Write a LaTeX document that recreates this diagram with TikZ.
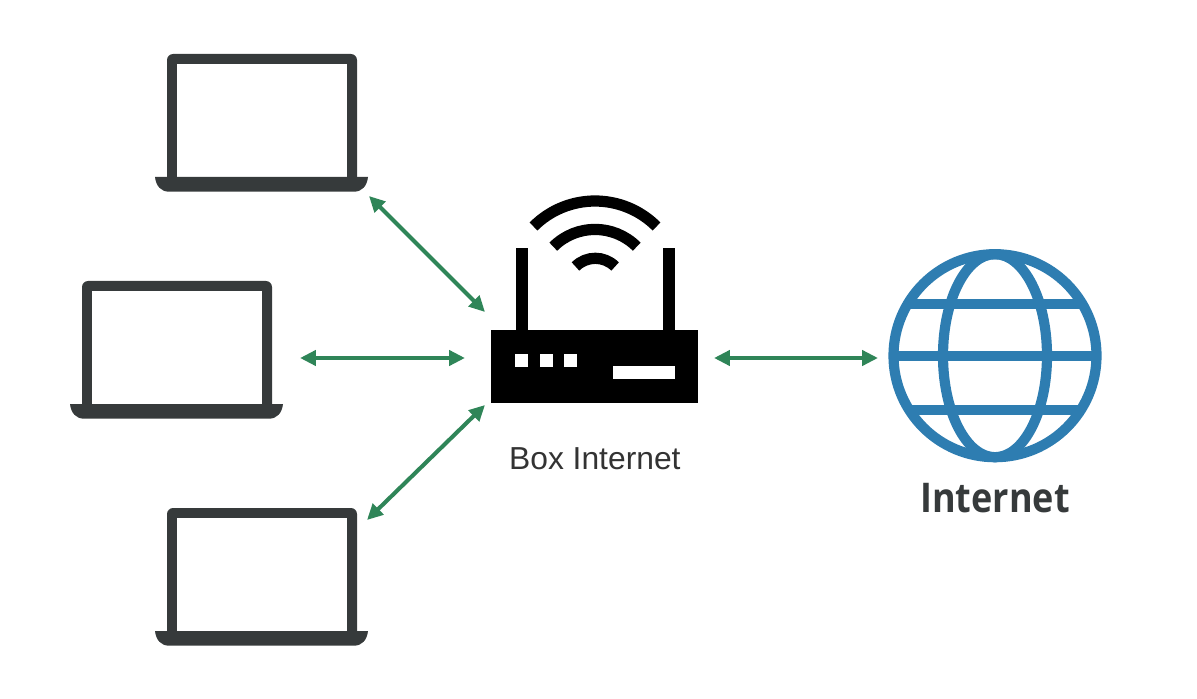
\documentclass[tikz,border=0pt]{standalone}
\usepackage{fontspec}
\setmainfont{Liberation Sans}
\newfontfamily\labelfont[FakeStretch=0.88]{Open Sans}
\usepackage{tikz}
\usetikzlibrary{arrows.meta}
\usetikzlibrary{positioning}
\definecolor{pcgray}{HTML}{363A3B}
\definecolor{linkgreen}{HTML}{2F8558}
\definecolor{globeblue}{HTML}{2E7DB1}
\tikzset{link/.style={linkgreen, line width=2.3pt, {Triangle[length=9pt,width=8.5pt]}-{Triangle[length=9pt,width=8.5pt]}}}
\tikzset{wave/.style={line width=6.4pt}}
\tikzset{globeline/.style={globeblue, line width=5.8pt}}
\tikzset{laptop/.pic={
   \fill[pcgray, rounded corners=3.5pt] (0,130) -- (0,0) -- (190,0) -- (190,130) -- cycle;
   \fill[white] (10,10) rectangle (180,123);
   \fill[pcgray] (-12,123) -- (201,123) .. controls (200,132) and (195,137.7) .. (187,137.7)
      -- (2,137.7) .. controls (-6,137.7) and (-11,132) .. cycle;
}}

\begin{document}
\begin{tikzpicture}[x=0.02cm,y=-0.02cm]
   \useasboundingbox (0,0) rectangle (1197,699);

   \pic at (167,54) {laptop};
   \pic at (82,281) {laptop};
   \pic at (167,508) {laptop};

   % box
   \node[fill=black, inner sep=0pt, minimum width=207*0.02cm, minimum height=73*0.02cm, anchor=north west] (box) at (491,330) {};
   \fill (515.7,248) rectangle (527.7,331);
   \fill (662.7,248) rectangle (675,331);
   \foreach \x in {515,540,564}
      \fill[white] (\x,354) rectangle +(12.5,12.5);
   \fill[white] (613.3,366) rectangle (675,378.7);
   \draw[wave] (533.5,226.5) arc[start angle=-135,end angle=-45,radius=87];
   \draw[wave] (553.3,246.7) arc[start angle=-135,end angle=-45,radius=59];
   \draw[wave] (575.5,266.5) arc[start angle=-135,end angle=-45,radius=28];
   \node[font=\fontsize{18.1pt}{21pt}\selectfont, text=black!80, below=0.76cm of box] (boxlabel) {Box Internet};

   % internet
   \node[circle, draw=globeblue, line width=5.8pt, inner sep=0pt, minimum size=203*0.02cm] (globe) at (995,355.7) {};
   \draw[globeline] (995,355.7) ellipse [x radius=52, y radius=101.5];
   \draw[globeline] (894,355.7) -- (1096,355.7);
   \draw[globeline] (908.4,304) -- (1081.6,304);
   \draw[globeline] (908.4,410) -- (1081.6,410);
   \node[font=\labelfont\bfseries\fontsize{23.3pt}{28pt}\selectfont, text=pcgray, below=0.3cm of globe] (netlabel) {Internet};

   \coordinate (pcA) at (369,196);
   \coordinate (pcB) at (300,358);
   \coordinate (pcC) at (367,520);
   \coordinate (boxA) at (485,312);
   \coordinate (boxB) at (465,358);
   \coordinate (boxC) at (485,405);
   \coordinate (boxD) at (714,358);
   \coordinate (netA) at (878,358);

   \draw[link] (pcA) -- (boxA);
   \draw[link] (pcB) -- (boxB);
   \draw[link] (pcC) -- (boxC);
   \draw[link] (boxD) -- (netA);
\end{tikzpicture}
\end{document}
